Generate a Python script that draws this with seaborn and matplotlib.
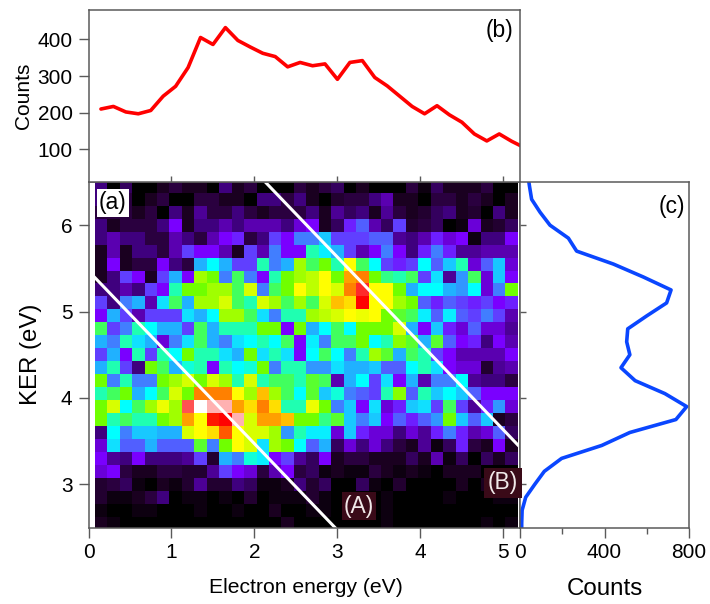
import numpy as np
import seaborn as sns
import matplotlib
matplotlib.use("Agg")
import matplotlib.pyplot as plt
from matplotlib.colors import LinearSegmentedColormap

sns.set_theme(style="white")
plt.rcParams['font.family'] = ['Liberation Sans', 'DejaVu Sans']

W, H = 710, 604
AXIS_GRAY = '#5a5a5a'

# Map of counts, one list per KER bin, top row (6.45 eV) first, 34 energy bins.
heat_rows = [
    [3,0,2.5,0,0,1,2,1,1,0,3,1,2,0,0,0,2, 1,2,2.5,0,1,0,0,0,2,0.5,2.5,1,1,1,2,0,0],
    [3,2,2,0,1,2,0,0,2,2,1,1,0,3,3,2,3, 1,0,1.5,2,2,3,4,1,1,0,2,2,1,2,1,0,1],
    [2,2,2,1,2,0,3,1,3.5,2,2,3,2,1,2,2,2, 3,1,3.5,2.5,3,1,3.5,2,1,1.5,2.5,3,1,1.5,0,3,1],
    [3,1,2,2,2,3,5,1,3,3,4,3,4,4,4,3,4.5, 5,1,2.5,5.5,6.5,4,2.5,6,1.5,2,2.5,0,0.5,4.5,1,1.5,2.5],
    [3,4,3,3,2,2,4,3,2,4,5,5.5,2,3,6,5,7, 7,8.5,6,6,6,6.5,6.5,3.5,3,4,5.5,4.5,5,0.5,3,3,5],
    [1,4,1,3,3,2,4,6,5,5,4,1,6,4,7,5,5, 11,9.5,8,6,4,5,7,5,3,5.5,7,5.5,3.5,3.5,4,4,4],
    [1,5,1,2,2,5,3,2,8,10,8,6,6,11,7,8,14, 12,13,11,16,12,10,6,5.5,6,10,6.5,8.5,11,4.5,6.5,8.5,4.5],
    [1,3,6,5,1,6,8,5,14,13,7,12,7,5,11,13,14, 14.5,16,13,17.5,18,13,11.5,11,12,6,9,3.5,7.5,12,4.5,8.5,5],
    [3,3,4,3,6,5,11,13,13,14,14,12,15,7,12,13,16, 14.5,16,15,18,20.5,16,16,13,8,10,10,8,7.5,10,4.5,7,13],
    [6,3,7,8,4,9,12,8,14,14,15,12,11,15,14,12,14, 12,15,17,16.5,20,16,16,14,13,6.5,5.5,6.5,6,5.5,6,5,5.5],
    [5,8,6,4,6,6,6,9,8,10,14,14,12,9,7,11,11, 14,14.5,15,16,15.5,16,13,12.5,12,9.5,6.5,9.5,6.5,6,7,6,4],
    [12,6,7,11,10,8,8,6,12,8,11,11,11,13,13,5,13, 8,10,12,10,13,13,13,15,8,5,8.5,5.5,4.5,6.5,4.5,4.5,3.5],
    [8,7,11,9,8,4.5,7,9,12,8,7,9,10,11,10,12,5, 9.5,7,12,12,13,10,11,13.5,12.5,8,12.5,6.5,5,5.5,3,5,4],
    [6,8,5,11,6,11,10,13,11,11,9,8,13,9,11,9,5, 10,12,10,7,11,14,12.5,8,12,11,6,5,4,4,4,4,5],
    [8,11,6,3,13,12,8,10.5,11,5,11,10,10.5,13,7,11,11, 7.5,7.5,9,8,8,8.5,6.5,6.5,10,11,9,5,4.5,4.5,1.5,3.5,4],
    [13,7,11,7,7,13,14,15,13,15,14,11,15,11,12,12,11, 12.5,12,4,8,10,6,9,5,8,4,7,7,10,3.5,3,3,2],
    [11,12,13,8,10,12,15,13,18,18,18,16,14,17,14,12,10, 12.5,8.5,10.5,7,6.5,6,11,13.5,6.5,11,8.5,10,8.5,6.5,5,5,5],
    [13,15,10,12,14,15.5,14,21,23,22,22,17.5,16.5,18,16.5,11,11, 15.5,13,7,8.5,5,9,4.5,5.5,8.5,9,6,12,6,3.5,5.5,7.5,4.5],
    [13,11,12,11,11,13,14,17.5,16,19.5,20,22,15,17.5,17.5,17,13, 13,11.5,12.5,8.5,7,8.5,5,6.5,5.5,6.5,7.5,13,8.5,6.5,8.5,1,2],
    [3,10,7,8.5,8.5,8,8,15,16,16.5,18.5,16,15,15,14,7.5,11, 9.5,9.5,4.5,8.5,5.5,4.5,4.5,3,4.5,3.5,5.5,7,5.5,4,4.5,6.5,2.5],
    [4.5,9,6.5,6.5,8,6.5,6.5,6.5,12.5,7,13,16,15,9,14,13,10, 6.5,8,2.5,4.5,3,4.5,3,2,1,3.5,0.5,2.5,5.5,2,1,5,1],
    [5,3.5,3,5,3,3,3,3.5,6,1.5,8,7,10.5,9.5,5,6,3.5, 2.5,5,1,2,2,1,1,1,2.5,1,4,0.5,2.5,0,2.5,1,2.5],
    [4.5,5,2,1,1,2,2,1.5,1.5,3.5,6,5,4.5,2,4,5,2, 2.5,0.5,1,0.5,0.5,2,1,0.5,1,0.5,0,1,1,1,0,0,0],
    [1.5,2,2.5,0.5,0,1,0.5,1.5,3.5,1.5,1.5,3,2.5,0.5,0.5,1,3, 1.5,2.5,0,0,2.5,0.5,0,1.5,0,0,0,0,1,0,1,0,0],
    [1.5,0.5,0.5,1,2,3,0,0.5,0.5,0,0.5,0,1.5,0,0.5,0.5,0.5, 1.5,0.5,0,0,0,0,0.5,0,0,0,0,0.5,0,0,0,0.5,0.5],
    [0.5,0,0,0.5,0.5,0,0,0,0.5,0,0,0.5,0,0,1,0,0, 0.5,0.5,0,0,0,0,0.5,0,0,0,0,0,0,0,0,0,0],
    [1,0.5,0,0,0,0,0,0,0,0,0,0,0,0,0,1,0, 0,0,0,0,0,0,0.5,0,0,0,0,0,0,0,0.5,0,0.5],
]

# Projection on electron energy, panel (b), last point sits past the axis
energy_centers = [0.15,0.30,0.45,0.60,0.75,0.90,1.05,1.20,1.35,1.50,1.65,1.80,
                  1.95,2.10,2.25,2.40,2.55,2.70,2.85,3.00,3.15,3.30,3.45,3.60,
                  3.75,3.90,4.05,4.20,4.35,4.50,4.65,4.80,4.95,5.10,5.25]
energy_counts = [210,217,202,197,206,245,272,323,405,386,432,397,379,362,353,325,
                 337,328,333,291,337,342,296,273,245,217,197,219,194,174,142,123,
                 142,122,105]

# Projection on KER, panel (c), first and last points sit past the axis
ker_centers = [2.40,2.55,2.70,2.85,3.00,3.15,3.30,3.45,3.60,3.75,3.90,4.05,4.20,4.35,4.50,
               4.65,4.80,4.95,5.10,5.25,5.40,5.55,5.70,5.85,6.00,6.15,6.30,6.45,6.60]
ker_counts = [8,8,10,27,70,115,197,387,520,738,789,686,545,478,520,505,510,600,694,
              715,584,442,268,229,142,95,55,45,36]

# White lines, x + y = const
line_sums = [5.47, 8.63]

cmap_colors = ['#000000','#1a0020','#2a0040','#400080','#5a00b0','#7a00ff','#6040ff',
               '#4080ff','#20b0ff','#10e0ff','#00ffff','#20ffb0','#40ff60','#70ff00',
               '#a0ff00','#d8ff00','#ffff00','#ffc000','#ff8000','#ff3000','#ff0000',
               '#ff5050','#ffb0b0','#ffffff']
cmap = LinearSegmentedColormap.from_list('ker', cmap_colors, N=512)


def axes_px(left, top, right, bottom):
    return [left / W, 1 - bottom / H, (right - left) / W, (bottom - top) / H]


def style_spines(ax):
    for s in ax.spines.values():
        s.set_visible(True)
        s.set_color(AXIS_GRAY)
        s.set_linewidth(1.1)


def fig_label(txt, x, y, **kw):
    fig.text(x / W, 1 - y / H, txt, fontsize=16.5, ha='center', va='center', **kw)


# heatmap cells are indexed, these turn eV into cell index
def x_idx(e):
    return (np.asarray(e) - 0.075) / 0.15


def y_idx(k):
    return (6.525 - np.asarray(k)) / 0.15


fig = plt.figure(figsize=(W / 100, H / 100), dpi=100)

# (a)
ax_a = fig.add_axes(axes_px(88.5, 182, 520, 527.5))
sns.heatmap(np.array(heat_rows), ax=ax_a, cmap=cmap, vmin=0, vmax=23, cbar=False,
            xticklabels=False, yticklabels=False)
ax_a.set_xlim(x_idx(0), x_idx(5.2))
ax_a.set_ylim(y_idx(2.5), y_idx(6.5))
for c in line_sums:
    xs = np.array([0, 5.2])
    ax_a.plot(x_idx(xs), y_idx(c - xs), color='white', lw=2.2, solid_capstyle='butt')
ax_a.set_xticks(x_idx([0, 1, 2, 3, 4, 5]), ['0', '1', '2', '3', '4', '5'], fontsize=15)
ax_a.set_yticks(y_idx([3, 4, 5, 6]), ['3', '4', '5', '6'], fontsize=15)
ax_a.tick_params(axis='both', which='major', direction='out', length=7.5, width=1,
                 color=AXIS_GRAY, labelcolor='black', bottom=True, left=True, pad=4)
ax_a.set_xlabel('Electron energy (eV)', fontsize=15.2, color='black')
ax_a.xaxis.set_label_coords(0.504, -0.146)
ax_a.set_ylabel('KER (eV)', fontsize=17.3, color='black')
ax_a.yaxis.set_label_coords(-0.108, 0.5)
style_spines(ax_a)
fig_label('(a)', 113, 203, color='black', bbox=dict(fc='white', ec='none', pad=1.5))
fig_label('(A)', 359, 506, color='#f0e8e8', bbox=dict(fc='#3a0a18', ec='none', pad=1.5))
fig_label('(B)', 503, 483, color='#f0e8e8', bbox=dict(fc='#3a0a18', ec='none', pad=2.5))
fig.add_artist(plt.Line2D([487 / W, 487 / W], [1 - 496 / H, 1 - 469 / H], color='#c8c8c8', lw=1))

# (b)
ax_b = fig.add_axes(axes_px(88.5, 10, 520, 182))
sns.lineplot(x=energy_centers, y=energy_counts, ax=ax_b, color='#ff0000', lw=2.6,
             estimator=None, sort=False)
ax_b.set_xlim(0, 5.2)
ax_b.set_ylim(11, 480)
ax_b.set_xticks([1, 2, 3, 4, 5], [])
ax_b.set_yticks([100, 200, 300, 400])
ax_b.tick_params(axis='x', direction='in', length=4, width=1, color=AXIS_GRAY, bottom=True)
ax_b.tick_params(axis='y', direction='out', length=7.5, width=1, color=AXIS_GRAY, left=True,
                 labelsize=15, labelcolor='black', pad=4)
ax_b.set_ylabel('Counts', fontsize=15, color='black')
ax_b.yaxis.set_label_coords(-0.128, 0.5)
style_spines(ax_b)
fig_label('(b)', 500, 31, color='black')

# (c)
ax_c = fig.add_axes(axes_px(520, 182, 689, 527.5))
sns.lineplot(x=ker_counts, y=ker_centers, ax=ax_c, color='#0a46ff', lw=2.6,
             estimator=None, sort=False, orient='y')
ax_c.set_xlim(0, 800)
ax_c.set_ylim(2.5, 6.5)
ax_c.set_xticks([0, 400, 800])
ax_c.set_xticks([200, 600], minor=True)
ax_c.set_yticks([3, 4, 5, 6], [])
ax_c.tick_params(axis='x', which='major', direction='out', length=7.5, width=1, color=AXIS_GRAY,
                 bottom=True, labelsize=15, labelcolor='black', pad=4)
ax_c.tick_params(axis='x', which='minor', direction='out', length=4, width=1, color=AXIS_GRAY,
                 bottom=True)
ax_c.tick_params(axis='y', direction='in', length=4, width=1, color=AXIS_GRAY, left=True)
ax_c.set_xlabel('Counts', fontsize=17.4, color='black')
ax_c.xaxis.set_label_coords(0.503, -0.146)
style_spines(ax_c)
fig_label('(c)', 672, 207, color='black')

fig.savefig('out.png', dpi=100, facecolor='white')
